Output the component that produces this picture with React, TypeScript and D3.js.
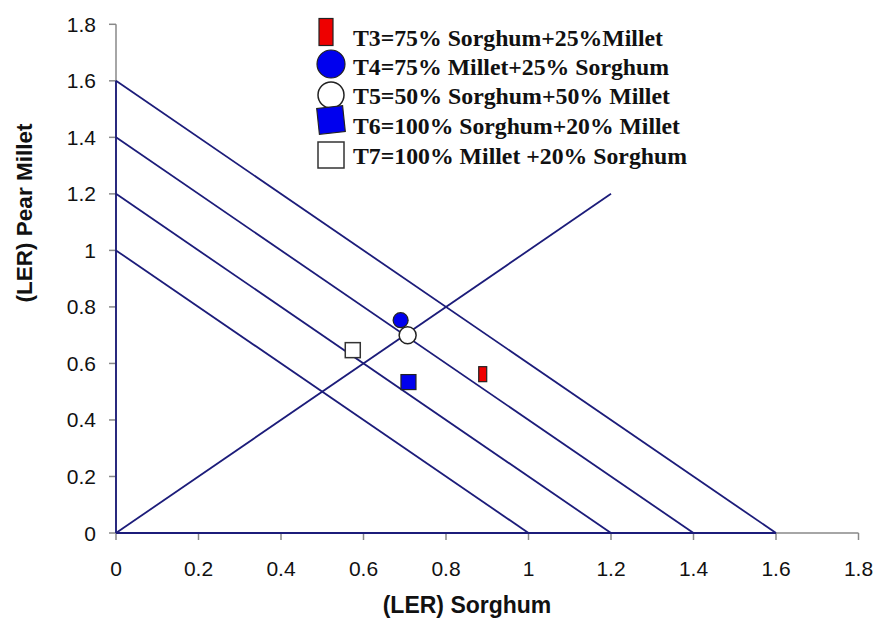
import React from "react";
import * as d3 from "d3";

const xTicks = [0, 0.2, 0.4, 0.6, 0.8, 1, 1.2, 1.4, 1.6, 1.8];
const yTicks = [0, 0.2, 0.4, 0.6, 0.8, 1, 1.2, 1.4, 1.6, 1.8];
const isoTotals = [1, 1.2, 1.4, 1.6];
const diagonalEnd = 1.2;

const treatments = ["T3", "T4", "T5", "T6", "T7"];
const labels = [
  "T3=75% Sorghum+25%Millet",
  "T4=75% Millet+25% Sorghum",
  "T5=50% Sorghum+50% Millet",
  "T6=100% Sorghum+20% Millet",
  "T7=100% Millet +20% Sorghum",
];
const sorghumLER = [0.889, 0.69, 0.707, 0.709, 0.574];
const milletLER = [0.562, 0.753, 0.7, 0.534, 0.647];

const W = 877;
const H = 619;
const NAVY = "#1c1c7a";
const SANS = "Liberation Sans, Arial, sans-serif";

export default function App() {
  const x = d3.scaleLinear().domain([0, 1.8]).range([116, 858.5]);
  const y = d3.scaleLinear().domain([0, 1.8]).range([533, 24.3]);
  const line = d3.line<[number, number]>().x((d) => x(d[0])).y((d) => y(d[1]));

  const marker = (t: string, cx: number, cy: number, legend: boolean) => {
    switch (t) {
      case "T3": {
        const w = legend ? 14 : 8, h = legend ? 27 : 15;
        return <rect x={cx - w / 2} y={cy - h / 2} width={w} height={h} fill="#ee0000" stroke="#222" strokeWidth={1.2} />;
      }
      case "T4": {
        const r = legend ? 14 : 7.5;
        return <circle cx={cx} cy={cy} r={r} fill="#0000ee" stroke="#222" strokeWidth={1.2} />;
      }
      case "T5": {
        const r = legend ? 13 : 8.5;
        return <circle cx={cx} cy={cy} r={r} fill="#fff" stroke="#222" strokeWidth={1.5} />;
      }
      case "T6": {
        const s = legend ? 26 : 15;
        return <rect x={cx - s / 2} y={cy - s / 2} width={s} height={s} fill="#0000ee" stroke="#222" strokeWidth={1.2}
          transform={legend ? `rotate(-6 ${cx} ${cy})` : undefined} />;
      }
      default: {
        const s = legend ? 26 : 15;
        return <rect x={cx - s / 2} y={cy - s / 2} width={s} height={s} fill="#fff" stroke="#333" strokeWidth={1.5} />;
      }
    }
  };

  const legendCenters = [32, 64, 95, 120, 155];
  const legendBaselines = [46, 75, 104, 134, 164];
  const legendWidths = [310, 316, 317, 327, 334];

  return (
    <svg width={W} height={H} style={{ position: "absolute", left: 0, top: 0, background: "#fff" }}>
      {/* axes */}
      <line x1={x(0)} x2={x(1.8)} y1={y(0)} y2={y(0)} stroke="#888" strokeWidth={1.5} />
      <line x1={x(0)} x2={x(0)} y1={y(0)} y2={y(1.8)} stroke="#888" strokeWidth={1.5} />
      {xTicks.map((t) => (
        <g key={"x" + t}>
          <line x1={x(t)} x2={x(t)} y1={y(0)} y2={y(0) + 7} stroke="#888" strokeWidth={1.5} />
          <text x={x(t)} y={576} textAnchor="middle" fontFamily={SANS} fontSize={21} fill="#111">{String(t)}</text>
        </g>
      ))}
      {yTicks.map((t) => (
        <g key={"y" + t}>
          <line x1={x(0) - 7} x2={x(0)} y1={y(t)} y2={y(t)} stroke="#888" strokeWidth={1.5} />
          <text x={96} y={y(t) + 7.5} textAnchor="end" fontFamily={SANS} fontSize={21} fill="#111">{String(t)}</text>
        </g>
      ))}
      {/* iso-LER lines */}
      {isoTotals.map((c) => (
        <path key={"iso" + c} d={line([[0, c], [c, 0]]) || ""} stroke={NAVY} strokeWidth={1.8} fill="none" />
      ))}
      <path d={line([[0, 0], [diagonalEnd, diagonalEnd]]) || ""} stroke={NAVY} strokeWidth={1.8} fill="none" />
      <line x1={x(0)} x2={x(0)} y1={y(0)} y2={y(1.6)} stroke={NAVY} strokeWidth={1.8} />
      <line x1={x(0)} x2={x(1.6)} y1={y(0)} y2={y(0)} stroke={NAVY} strokeWidth={1.8} />
      {/* points */}
      {treatments.map((t, i) => (
        <g key={"p" + t}>{marker(t, x(sorghumLER[i]), y(milletLER[i]), false)}</g>
      ))}
      {/* legend */}
      {treatments.map((t, i) => (
        <g key={"l" + t}>
          {marker(t, t === "T3" ? 326 : 331, legendCenters[i], true)}
          <text x={353} y={legendBaselines[i]} fontFamily="Liberation Serif, Times New Roman, serif" fontWeight="bold" fontSize={23}
            textLength={legendWidths[i]} lengthAdjust="spacingAndGlyphs" fill="#111">{labels[i]}</text>
        </g>
      ))}
      {/* axis titles */}
      <text x={467} y={613} textAnchor="middle" fontFamily={SANS} fontWeight="bold" fontSize={23} fill="#111">(LER) Sorghum</text>
      <text transform="translate(32,213) rotate(-90)" textAnchor="middle" fontFamily={SANS} fontWeight="bold" fontSize={22.5} fill="#111">(LER) Pear Millet</text>
    </svg>
  );
}
